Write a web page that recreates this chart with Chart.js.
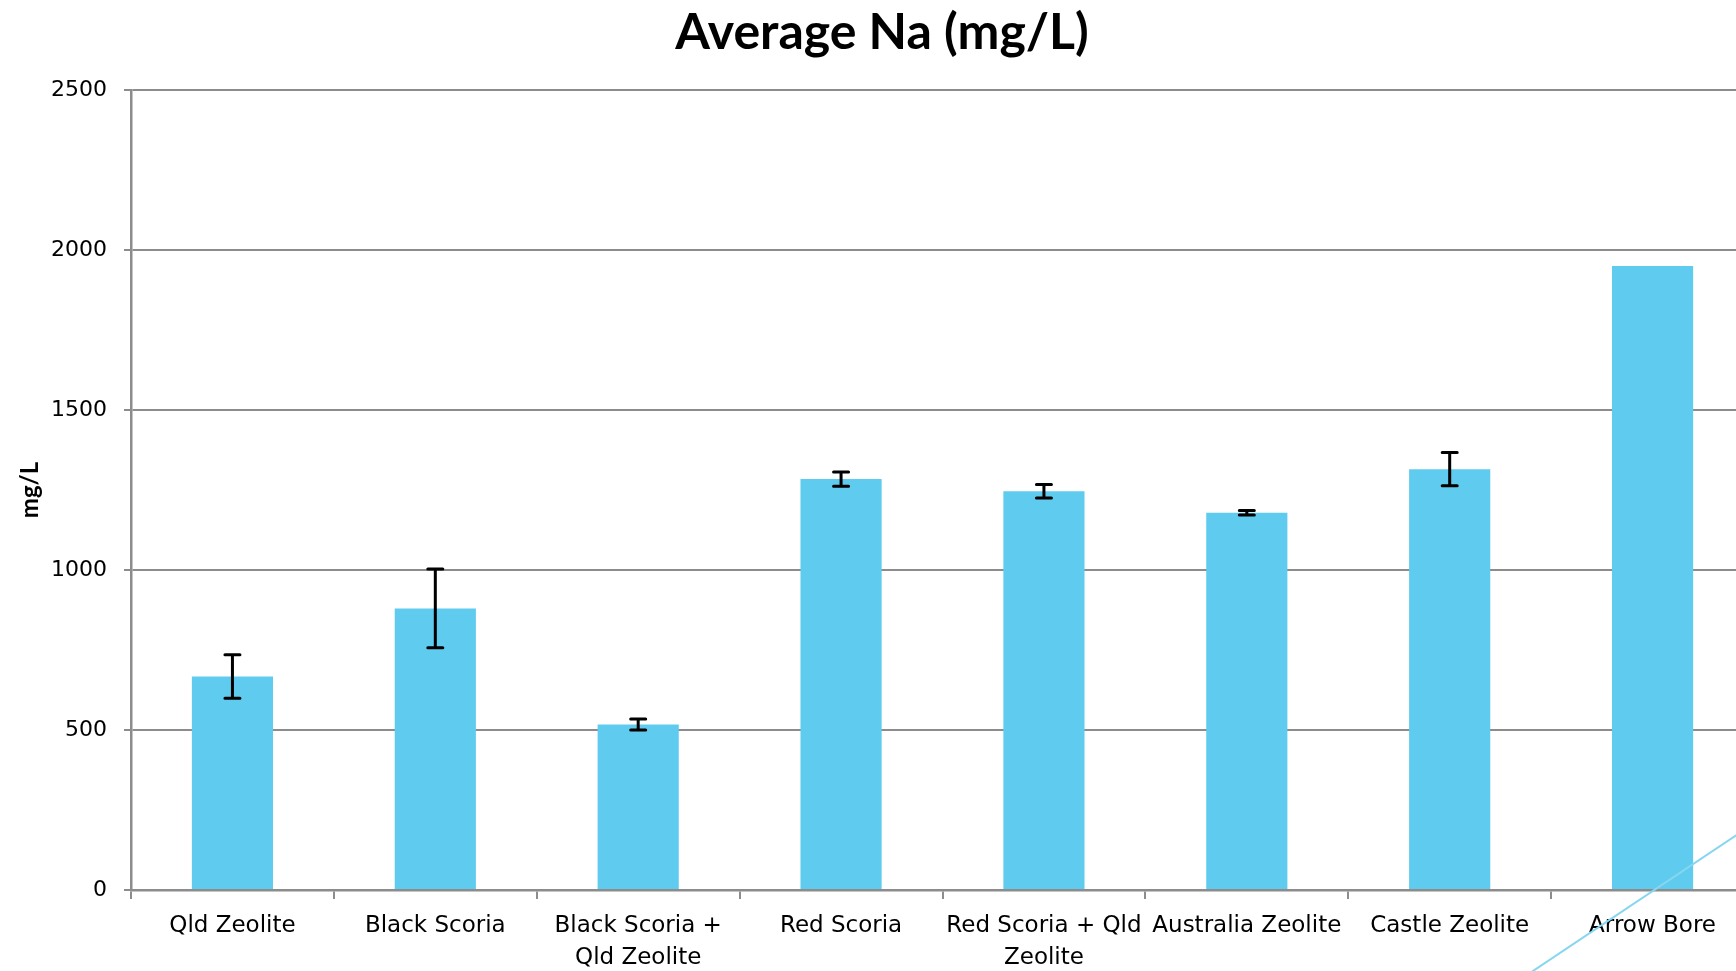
<!DOCTYPE html>
<html>
<head>
<meta charset="utf-8">
<script src="https://cdn.jsdelivr.net/npm/chart.js@4/dist/chart.umd.min.js"></script>
<style>
    html, body { margin: 0; padding: 0; background: #fff; overflow: hidden; }
    #wrap { position: relative; width: 1762px; height: 971px; }
    #deco { position: absolute; left: 0; top: 0; pointer-events: none; }
</style>
</head>
<body>
<div id="wrap">
    <canvas id="graficoNa"></canvas>
    <svg id="deco" width="1762" height="971">
        <line x1="1500" y1="993" x2="1762" y2="818" stroke="#86d6f0" stroke-width="2"/>
    </svg>
</div>
<script>
const categorias = [
    "Qld Zeolite",
    "Black Scoria",
    ["Black Scoria +", "Qld Zeolite"],
    "Red Scoria",
    ["Red Scoria + Qld", "Zeolite"],
    "Australia Zeolite",
    "Castle Zeolite",
    "Arrow Bore"
];
const mediaNa = [667, 880, 517, 1284, 1246, 1179, 1315, 1950];
const erroNa = [68, 123, 17, 22, 21, 7, 52, 0];
const ticksY = [0, 500, 1000, 1500, 2000, 2500];

const corGrade = "#8c8c8c";

// barras de erro desenhadas pela escala y
const errorBars = {
    id: "errorBars",
    afterDatasetsDraw(chart) {
        const ctx = chart.ctx;
        const y = chart.scales.y;
        const meta = chart.getDatasetMeta(0);
        ctx.save();
        ctx.strokeStyle = "#000";
        ctx.lineWidth = 3;
        ctx.lineCap = "round";
        meta.data.forEach((bar, i) => {
            const e = erroNa[i];
            if (!e) return;
            const topo = y.getPixelForValue(mediaNa[i] + e);
            const base = y.getPixelForValue(mediaNa[i] - e);
            const x = bar.x;
            ctx.beginPath();
            ctx.moveTo(x, topo); ctx.lineTo(x, base);
            ctx.moveTo(x - 7.5, topo); ctx.lineTo(x + 7.5, topo);
            ctx.moveTo(x - 7.5, base); ctx.lineTo(x + 7.5, base);
            ctx.stroke();
        });
        ctx.restore();
    }
};

const ctx = document.getElementById("graficoNa").getContext("2d");
new Chart(ctx, {
    type: "bar",
    data: {
        labels: categorias,
        datasets: [{
            label: "Average Na (mg/L)",
            data: mediaNa,
            backgroundColor: "#5fcbef",
            borderWidth: 0,
            categoryPercentage: 1,
            barPercentage: 0.4
        }]
    },
    options: {
        responsive: true,
        maintainAspectRatio: false,
        animation: false,
        layout: { padding: { left: 10, right: 8, top: 0, bottom: 0 } },
        plugins: {
            legend: { display: false },
            tooltip: { enabled: false },
            title: {
                display: true,
                text: "Average Na (mg/L)",
                color: "#000",
                font: { family: "Lato", size: 50, weight: "bold", lineHeight: 1.2 },
                padding: { top: 3, bottom: 27 }
            }
        },
        scales: {
            x: {
                grid: {
                    display: true,
                    drawOnChartArea: false,
                    drawTicks: true,
                    tickLength: 9,
                    color: corGrade,
                    lineWidth: 2
                },
                border: { color: corGrade, width: 2.5 },
                ticks: {
                    color: "#000",
                    autoSkip: false,
                    maxRotation: 0,
                    padding: 12,
                    font: { family: "DejaVu Sans", size: 23, lineHeight: 1.35 }
                },
                afterFit: scale => { scale.height = 81; }
            },
            y: {
                min: 0,
                max: 2500,
                afterBuildTicks: scale => { scale.ticks = ticksY.map(v => ({ value: v })); },
                grid: {
                    color: corGrade,
                    lineWidth: 2,
                    tickLength: 7
                },
                border: { color: corGrade, width: 2.5 },
                ticks: {
                    color: "#000",
                    padding: 17,
                    font: { family: "DejaVu Sans", size: 22 },
                    callback: value => String(value)
                },
                title: {
                    display: true,
                    text: "mg/L",
                    color: "#000",
                    font: { family: "Lato", size: 24, weight: "bold", lineHeight: 1.2 },
                    padding: { top: 6, bottom: 0 }
                },
                afterFit: scale => { scale.width = 121; }
            }
        }
    },
    plugins: [errorBars]
});
</script>
</body>
</html>
